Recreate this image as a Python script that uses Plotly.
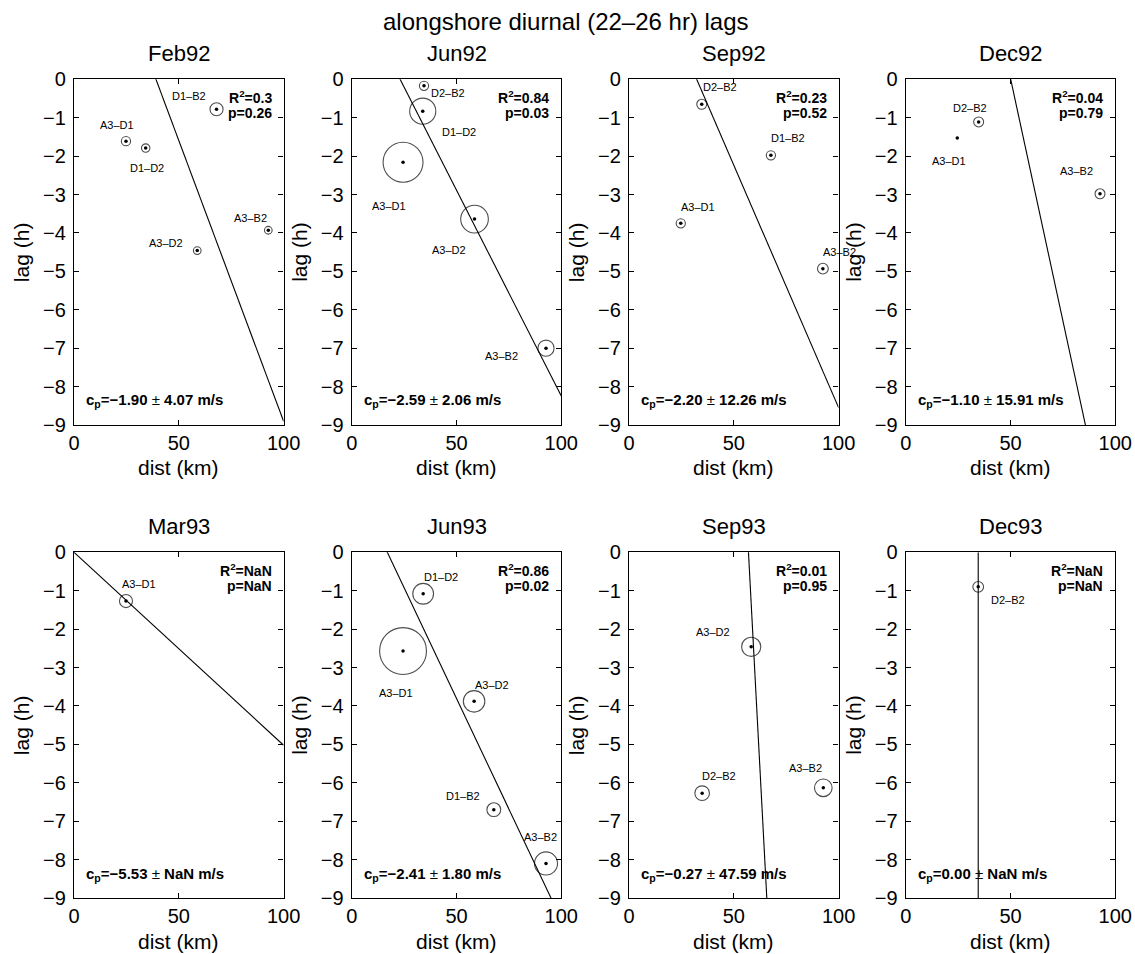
import math
import plotly.graph_objects as go

FONT = "Liberation Sans, Arial, Helvetica, sans-serif"
W, H = 1135, 954

# ---------------------------------------------------------------- data
panels = ["Feb92", "Jun92", "Sep92", "Dec92", "Mar93", "Jun93", "Sep93", "Dec93"]

# station pair, separation along shore (km), lag (h), lag uncertainty (h)
pairs_feb92 = ["D1–B2", "A3–D1", "D1–D2", "A3–D2", "A3–B2"]
dist_feb92 = [68.0, 24.8, 34.2, 58.8, 92.7]
lag_feb92 = [-0.78, -1.61, -1.79, -4.46, -3.93]
err_feb92 = [0.17, 0.12, 0.11, 0.10, 0.10]

pairs_jun92 = ["D2–B2", "D1–D2", "A3–D1", "A3–D2", "A3–B2"]
dist_jun92 = [34.5, 33.9, 24.5, 58.6, 92.7]
lag_jun92 = [-0.17, -0.83, -2.16, -3.64, -7.00]
err_jun92 = [0.12, 0.34, 0.52, 0.36, 0.21]

pairs_sep92 = ["D2–B2", "D1–B2", "A3–D1", "A3–B2"]
dist_sep92 = [34.7, 67.7, 24.7, 92.5]
lag_sep92 = [-0.65, -1.98, -3.75, -4.93]
err_sep92 = [0.13, 0.12, 0.12, 0.14]

pairs_dec92 = ["D2–B2", "A3–D1", "A3–B2"]
dist_dec92 = [34.8, 24.6, 92.7]
lag_dec92 = [-1.11, -1.53, -2.98]
err_dec92 = [0.13, 0.0, 0.13]

pairs_mar93 = ["A3–D1"]
dist_mar93 = [24.8]
lag_mar93 = [-1.27]
err_mar93 = [0.17]

pairs_jun93 = ["D1–D2", "A3–D1", "A3–D2", "D1–B2", "A3–B2"]
dist_jun93 = [34.1, 24.5, 58.4, 67.8, 92.7]
lag_jun93 = [-1.08, -2.57, -3.88, -6.70, -8.10]
err_jun93 = [0.27, 0.61, 0.28, 0.18, 0.30]

pairs_sep93 = ["A3–D2", "D2–B2", "A3–B2"]
dist_sep93 = [58.3, 34.9, 92.7]
lag_sep93 = [-2.46, -6.27, -6.13]
err_sep93 = [0.25, 0.19, 0.23]

pairs_dec93 = ["D2–B2"]
dist_dec93 = [34.6]
lag_dec93 = [-0.90]
err_dec93 = [0.14]

# fit statistics per survey
cp = [-1.90, -2.59, -2.20, -1.10, -5.53, -2.41, -0.27, 0.00]          # phase speed (m/s)
cp_err = [4.07, 2.06, 12.26, 15.91, math.nan, 1.80, 47.59, math.nan]   # m/s
r2 = [0.30, 0.84, 0.23, 0.04, math.nan, 0.86, 0.01, math.nan]
pval = [0.26, 0.03, 0.52, 0.79, math.nan, 0.02, 0.95, math.nan]
zero_lag_dist = [39.1, 23.1, 32.3, 50.1, 0.0, 17.0, 57.0, 34.6]       # km where fit lag = 0

dist_ticks = [0, 50, 100]
lag_ticks = [0, -1, -2, -3, -4, -5, -6, -7, -8, -9]

survey_pairs = [pairs_feb92, pairs_jun92, pairs_sep92, pairs_dec92,
                pairs_mar93, pairs_jun93, pairs_sep93, pairs_dec93]
survey_dist = [dist_feb92, dist_jun92, dist_sep92, dist_dec92,
               dist_mar93, dist_jun93, dist_sep93, dist_dec93]
survey_lag = [lag_feb92, lag_jun92, lag_sep92, lag_dec92,
              lag_mar93, lag_jun93, lag_sep93, lag_dec93]
survey_err = [err_feb92, err_jun92, err_sep92, err_dec92,
              err_mar93, err_jun93, err_sep93, err_dec93]

# ---------------------------------------------------------------- layout
COL_LEFT = [74, 351.7, 629, 905.7]     # px
ROW_TOP = [79.3, 552.3]                # px
PW, PH = 209.6, 345.7                  # axes box size, px
XR, YR = [0, 100], [-9, 0]
PX_PER_HOUR = PH / (YR[1] - YR[0])

# label offsets (px, right / down) from each point, in pair order
label_offsets = [
    [(-28, -13), (-9, -16), (1, 20), (-31, -8), (-18, -12)],
    [(24, 7), (36, 21), (-14, 44), (-26, 31), (-45, 8)],
    [(18, -17), (17, -17), (17, -16), (17, -17)],
    [(-9, -14), (-8, 23), (-24, -23)],
    [(13, -17)],
    [(18, -17), (-7, 42), (18, -16), (-31, -14), (-6, -26)],
    [(-38, -15), (17, -17), (-18, -20)],
    [(30, 13)],
]


def fmt(v, spec):
    return "NaN" if math.isnan(v) else format(v, spec)


def fmt_short(v):
    return "NaN" if math.isnan(v) else f"{round(v, 2):g}"


fig = go.Figure()
annotations = []
layout_axes = {}

for i, name in enumerate(panels):
    r, c = divmod(i, 4)
    sfx = "" if i == 0 else str(i + 1)
    xa, ya = "x" + sfx, "y" + sfx

    x0 = COL_LEFT[c] / W
    x1 = (COL_LEFT[c] + PW) / W
    y1 = 1 - ROW_TOP[r] / H
    y0 = 1 - (ROW_TOP[r] + PH) / H

    common = dict(
        ticks="inside", ticklen=5, tickwidth=1, tickcolor="black",
        showline=True, linecolor="black", linewidth=1.3, mirror="ticks",
        showgrid=False, zeroline=False, automargin=False,
        tickfont=dict(family=FONT, size=20, color="black"),
    )
    layout_axes["xaxis" + sfx] = dict(
        domain=[x0, x1], anchor=ya, range=XR, tickvals=dist_ticks,
        ticklabelstandoff=0, **common)
    layout_axes["yaxis" + sfx] = dict(
        domain=[y0, y1], anchor=xa, range=YR, tickvals=lag_ticks,
        ticklabelstandoff=3, **common)

    # fitted propagation line: lag = (dist - d0) / (3.6 * cp)
    d0 = zero_lag_dist[i]
    if cp[i] == 0:
        lx, ly = [d0, d0], YR
    else:
        lx = XR
        ly = [(d - d0) / (3.6 * cp[i]) for d in XR]
    fig.add_trace(go.Scatter(x=lx, y=ly, mode="lines", xaxis=xa, yaxis=ya,
                             line=dict(color="black", width=1.1),
                             hoverinfo="skip"))

    d, lg, er = survey_dist[i], survey_lag[i], survey_err[i]
    # uncertainty circles
    cx = [a for a, e in zip(d, er) if e > 0]
    cy = [b for b, e in zip(lg, er) if e > 0]
    cs = [2 * e * PX_PER_HOUR for e in er if e > 0]
    fig.add_trace(go.Scatter(x=cx, y=cy, mode="markers", xaxis=xa, yaxis=ya,
                             marker=dict(symbol="circle-open", size=cs,
                                         color="black", line=dict(width=1.1)),
                             hoverinfo="skip"))
    # centre dots
    fig.add_trace(go.Scatter(x=d, y=lg, mode="markers", xaxis=xa, yaxis=ya,
                             marker=dict(symbol="circle", size=3.5, color="black"),
                             text=survey_pairs[i], hoverinfo="x+y+text"))

    # pair labels
    for lab, a, b, (dx, dy) in zip(survey_pairs[i], d, lg, label_offsets[i]):
        annotations.append(dict(
            x=a, y=b, xref=xa, yref=ya, text=lab, showarrow=False,
            xshift=dx, yshift=-dy, xanchor="center", yanchor="middle",
            font=dict(family=FONT, size=11, color="black")))

    dom_x, dom_y = xa + " domain", ya + " domain"
    # panel title
    annotations.append(dict(
        x=0.5, y=1, xref=dom_x, yref=dom_y, text=name, showarrow=False,
        xanchor="center", yanchor="middle", yshift=26,
        font=dict(family=FONT, size=22, color="black")))
    # axis titles
    annotations.append(dict(
        x=0.5, y=0, xref=dom_x, yref=dom_y, text="dist (km)", showarrow=False,
        xanchor="center", yanchor="middle", yshift=-43,
        font=dict(family=FONT, size=21, color="black")))
    annotations.append(dict(
        x=0, y=0.5, xref=dom_x, yref=dom_y, text="lag (h)", showarrow=False,
        xanchor="center", yanchor="middle", xshift=-53, textangle=-90,
        font=dict(family=FONT, size=21, color="black")))

    # fit statistics
    stat_font = dict(family=FONT, size=14, color="black")
    annotations.append(dict(
        x=1, y=1, xref=dom_x, yref=dom_y, showarrow=False,
        text=f"<b>R<sup>2</sup>={fmt_short(r2[i])}</b>",
        xanchor="right", yanchor="middle", xshift=-10, yshift=-18, font=stat_font))
    annotations.append(dict(
        x=1, y=1, xref=dom_x, yref=dom_y, showarrow=False,
        text=f"<b>p={fmt(pval[i], '.2f')}</b>",
        xanchor="right", yanchor="middle", xshift=-10, yshift=-34, font=stat_font))
    annotations.append(dict(
        x=0, y=0, xref=dom_x, yref=dom_y, showarrow=False,
        text=(f"<b>c<sub>p</sub>={fmt(cp[i], '.2f').replace('-', '−')} </b>±"
              f"<b> {fmt(cp_err[i], '.2f')} m/s</b>"),
        xanchor="left", yanchor="middle", xshift=10, yshift=24,
        font=dict(family=FONT, size=15, color="black")))

annotations.append(dict(
    x=566 / W, y=1 - 22 / H, xref="paper", yref="paper", showarrow=False,
    text="alongshore diurnal (22–26 hr) lags", xanchor="center", yanchor="middle",
    font=dict(family=FONT, size=24, color="black")))

fig.update_layout(
    width=W, height=H, margin=dict(l=0, r=0, t=0, b=0, autoexpand=False),
    paper_bgcolor="white", plot_bgcolor="white", showlegend=False,
    annotations=annotations, **layout_axes)

fig.write_html("out.html")
